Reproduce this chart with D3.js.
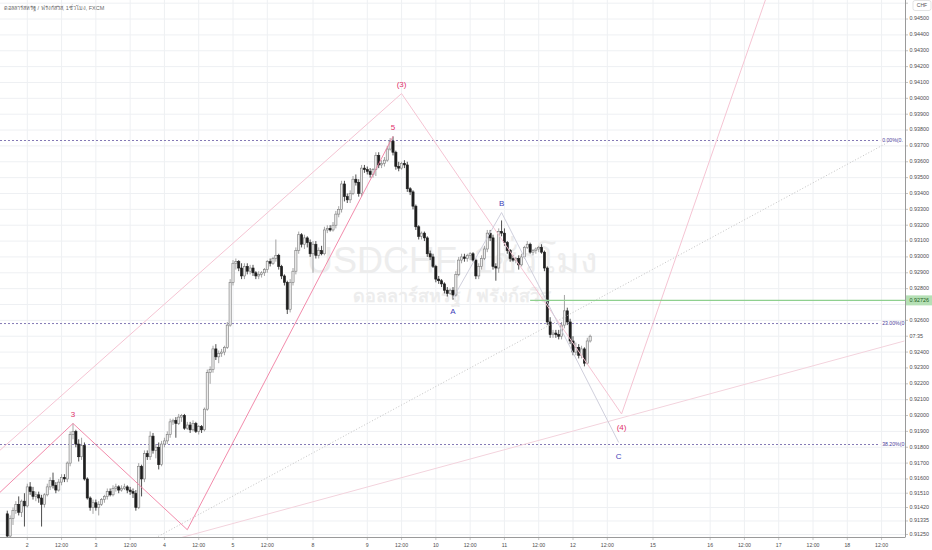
<!DOCTYPE html>
<html><head><meta charset="utf-8">
<script src="https://cdn.jsdelivr.net/npm/d3@7"></script>
<style>body{margin:0;background:#fff}svg{display:block}text{font-family:"Liberation Sans",Arial,"Noto Sans",sans-serif}</style>
</head><body><svg id="c" width="932" height="550"></svg>
<script>
// ---- data ----
const firstHour = -7; // hourly bars, hours counted from day "2" 00:00
const open = [.9138,.9124,.9135,.9140,.9144,.9139,.9146,.9143,.9155,.9152,
.9149,.9150,.9148,.9144,.9150,.9155,.9159,.9156,.9153,.9158,
.9161,.9160,.9170,.9188,.9190,.9182,.9174,.9181,.9160,.9148,
.9142,.9145,.9142,.9144,.9147,.9149,.9152,.9150,.9154,.9155,
.9153,.9154,.9155,.9153,.9152,.9151,.9142,.9168,.9160,.9176,
.9174,.9187,.9178,.9180,.9169,.9182,.9184,.9188,.9196,.9197,
.9195,.9199,.9200,.9192,.9194,.9191,.9195,.9190,.9193,.9191,
.9204,.9227,.9229,.9242,.9237,.9239,.9240,.9243,.9257,.9284,
.9296,.9297,.9293,.9288,.9294,.9291,.9293,.9290,.9288,.9289,
.9290,.9292,.9297,.9296,.9299,.9301,.9294,.9288,.9284,.9267,
.9284,.9291,.9304,.9314,.9308,.9312,.9309,.9302,.9308,.9301,
.9304,.9302,.9317,.9318,.9317,.9320,.9327,.9330,.9346,.9338,
.9336,.9340,.9349,.9347,.9340,.9356,.9355,.9354,.9352,.9355,
.9364,.9358,.9359,.9361,.9368,.9373,.9366,.9357,.9356,.9359,
.9358,.9343,.9341,.9332,.9319,.9313,.9315,.9312,.9302,.9300,
.9294,.9286,.9285,.9283,.9279,.9277,.9279,.9276,.9289,.9298,
.9300,.9299,.9301,.9302,.9298,.9288,.9294,.9299,.9305,.9315,
.9312,.9294,.9293,.9316,.9315,.9309,.9304,.9299,.9298,.9299,
.9295,.9300,.9306,.9308,.9303,.9304,.9305,.9306,.9303,.9293,
.9259,.9251,.9252,.9251,.9250,.9257,.9266,.9259,.9247,.9240,
.9243,.9238,.9242,.9233,.9247];
const high = [.9140,.9137,.9142,.9146,.9149,.9147,.9151,.9157,.9158,.9155,
.9152,.9152,.9150,.9151,.9157,.9161,.9164,.9158,.9160,.9163,
.9163,.9171,.9190,.9195,.9191,.9185,.9186,.9183,.9161,.9149,
.9147,.9147,.9146,.9148,.9150,.9154,.9154,.9156,.9157,.9156,
.9156,.9157,.9156,.9155,.9154,.9153,.9170,.9169,.9178,.9178,
.9190,.9189,.9182,.9183,.9184,.9186,.9190,.9198,.9198,.9199,
.9201,.9201,.9201,.9196,.9196,.9197,.9196,.9194,.9194,.9205,
.9229,.9231,.9244,.9245,.9241,.9242,.9244,.9259,.9286,.9298,
.9299,.9298,.9296,.9296,.9296,.9295,.9295,.9291,.9291,.9291,
.9293,.9298,.9299,.9300,.9311,.9302,.9295,.9289,.9285,.9286,
.9293,.9306,.9316,.9315,.9314,.9313,.9311,.9310,.9310,.9306,
.9307,.9319,.9320,.9320,.9322,.9329,.9332,.9348,.9348,.9340,
.9342,.9351,.9352,.9349,.9358,.9358,.9357,.9356,.9356,.9366,
.9366,.9361,.9363,.9370,.9375,.9376,.9367,.9360,.9360,.9361,
.9360,.9344,.9342,.9333,.9320,.9316,.9316,.9313,.9304,.9302,
.9295,.9288,.9286,.9284,.9281,.9280,.9281,.9291,.9300,.9302,
.9302,.9302,.9303,.9303,.9299,.9296,.9301,.9307,.9317,.9317,
.9314,.9296,.9318,.9323,.9318,.9310,.9305,.9301,.9300,.9301,
.9302,.9307,.9310,.9309,.9305,.9306,.9307,.9308,.9304,.9294,
.9262,.9254,.9254,.9254,.9259,.9276,.9268,.9261,.9250,.9246,
.9245,.9244,.9243,.9249,.9251];
const low = [.9122,.9123,.9131,.9138,.9137,.9136,.9130,.9142,.9150,.9147,
.9146,.9145,.9130,.9142,.9149,.9153,.9154,.9151,.9152,.9156,
.9158,.9158,.9168,.9185,.9180,.9171,.9172,.9159,.9147,.9140,
.9138,.9140,.9137,.9143,.9145,.9147,.9149,.9149,.9152,.9151,
.9152,.9153,.9151,.9150,.9148,.9140,.9141,.9149,.9158,.9172,
.9172,.9176,.9173,.9166,.9168,.9180,.9182,.9186,.9194,.9186,
.9194,.9196,.9191,.9191,.9189,.9190,.9189,.9188,.9189,.9190,
.9203,.9220,.9227,.9235,.9233,.9237,.9238,.9242,.9256,.9282,
.9292,.9291,.9286,.9286,.9289,.9289,.9288,.9286,.9286,.9287,
.9288,.9290,.9294,.9295,.9297,.9292,.9286,.9282,.9264,.9265,
.9282,.9289,.9302,.9306,.9305,.9306,.9300,.9290,.9299,.9299,
.9301,.9301,.9315,.9316,.9316,.9318,.9325,.9328,.9335,.9334,
.9334,.9339,.9345,.9338,.9338,.9353,.9352,.9350,.9350,.9351,
.9356,.9356,.9357,.9360,.9367,.9364,.9355,.9354,.9355,.9356,
.9341,.9339,.9330,.9317,.9311,.9311,.9310,.9300,.9298,.9293,
.9284,.9283,.9281,.9277,.9275,.9276,.9273,.9275,.9288,.9296,
.9297,.9297,.9298,.9297,.9286,.9286,.9292,.9298,.9303,.9310,
.9292,.9285,.9290,.9313,.9307,.9302,.9297,.9297,.9296,.9292,
.9294,.9299,.9305,.9302,.9301,.9302,.9303,.9302,.9291,.9257,
.9249,.9249,.9249,.9248,.9248,.9255,.9257,.9245,.9238,.9238,
.9236,.9236,.9231,.9232,.9246];
const close = [.9124,.9135,.9140,.9144,.9139,.9146,.9143,.9155,.9152,.9149,
.9150,.9148,.9144,.9150,.9155,.9159,.9156,.9153,.9158,.9161,
.9160,.9170,.9188,.9190,.9182,.9174,.9181,.9160,.9148,.9142,
.9145,.9142,.9144,.9147,.9149,.9152,.9150,.9154,.9155,.9153,
.9154,.9155,.9153,.9152,.9151,.9142,.9168,.9160,.9176,.9174,
.9187,.9178,.9180,.9169,.9182,.9184,.9188,.9196,.9197,.9195,
.9199,.9200,.9192,.9194,.9191,.9195,.9190,.9193,.9191,.9204,
.9227,.9229,.9242,.9237,.9239,.9240,.9243,.9257,.9284,.9296,
.9297,.9293,.9288,.9294,.9291,.9293,.9290,.9288,.9289,.9290,
.9292,.9297,.9296,.9299,.9301,.9294,.9288,.9284,.9267,.9284,
.9291,.9304,.9314,.9308,.9312,.9309,.9302,.9308,.9301,.9304,
.9302,.9317,.9318,.9317,.9320,.9327,.9330,.9346,.9338,.9336,
.9340,.9349,.9347,.9340,.9356,.9355,.9354,.9352,.9355,.9364,
.9358,.9359,.9361,.9368,.9373,.9366,.9357,.9356,.9359,.9358,
.9343,.9341,.9332,.9319,.9313,.9315,.9312,.9302,.9300,.9294,
.9286,.9285,.9283,.9279,.9277,.9279,.9276,.9289,.9298,.9300,
.9299,.9301,.9302,.9298,.9288,.9294,.9299,.9305,.9315,.9312,
.9294,.9293,.9316,.9315,.9309,.9304,.9299,.9298,.9299,.9295,
.9300,.9306,.9308,.9303,.9304,.9305,.9306,.9303,.9293,.9259,
.9251,.9252,.9251,.9250,.9257,.9266,.9259,.9247,.9240,.9243,
.9238,.9242,.9233,.9247,.9250];

const timeTickHours = [0,12,24,36,48,60,72,84,100,119,131,143,155,167,179,191,203,219,239,251,263,275,287,299];
const timeTickLabels = ["2","12:00","3","12:00","4","12:00","5","12:00","8","9","12:00","10","12:00","11","12:00","12","12:00","15","16","12:00","17","12:00","18","12:00"];
const priceTicks = [0.946,0.945,0.944,0.943,0.942,0.941,0.940,0.939,0.938,0.937,0.936,0.935,0.934,0.933,0.932,0.931,0.930,0.929,0.928,0.927,0.926,0.925,0.924,0.923,0.922,0.921,0.920,0.919,0.918,0.917,0.916,0.9151,0.9142,0.91335,0.9125];
const hiddenPriceLabels = [0.946,0.927,0.925]; // covered by the CHF box, alert label and countdown

const fibLevels = [0, 0.23, 0.382];
const fibHigh = 0.93734, fibLow = 0.88716, fibEndHour = 298.5;
const alertPrice = 0.92726, alertStartHour = 176;
const countdownText = "07:35";
const countdownPrice = 0.925;

const minorWave = [{h:-14,p:.9144},{h:16,p:.9195,t:"3"},{h:56,p:.9128},{h:128,p:.9376,t:"5"}];
const majorWave = [{h:-14,p:.9171},{h:131,p:.9403,t:"(3)"},{h:208,p:.9201,t:"(4)"},{h:262,p:.9481}];
const correction = [{h:149,p:.9274,t:"A"},{h:166,p:.9328,t:"B"},{h:207,p:.9183,t:"C"}];
const trendSolid = [{h:-9.5,p:.9092},{h:307,p:.9247}];
const trendDotted = [{h:25.5,p:.9104},{h:302,p:.9373}];

const titleText = "ดอลลาร์สหรัฐ / ฟรังก์สวิส, 1ชั่วโมง, FXCM";
const wmMain = "USDCHF, 1ชั่วโมง";
const wmSub = "ดอลลาร์สหรัฐ / ฟรังก์สวิส";

// ---- drawing ----
const plotR = 905, plotB = 537;
const svg = d3.select("#c");
const x = d3.scaleLinear().domain([-9.55, 307.2]).range([0, plotR]);
const y = d3.scaleLinear().domain([0.91234, 0.94620]).range([plotB, 0]);

svg.append("defs").append("clipPath").attr("id","clip").append("rect").attr("width",plotR).attr("height",plotB);
const g = svg.append("g").attr("clip-path","url(#clip)");

// grid
g.selectAll(".hg").data(priceTicks).join("line").attr("x1",0).attr("x2",plotR)
 .attr("y1",d=>y(d)).attr("y2",d=>y(d)).attr("stroke","#eef0f3").attr("stroke-width",1);
g.selectAll(".vg").data(timeTickHours).join("line").attr("y1",0).attr("y2",plotB)
 .attr("x1",d=>x(d)).attr("x2",d=>x(d)).attr("stroke","#eef0f3").attr("stroke-width",1);

// watermark
g.append("text").attr("x",plotR/2).attr("y",273).attr("text-anchor","middle").attr("font-size",36)
 .attr("fill","#ededed").text(wmMain);
g.append("text").attr("x",plotR/2).attr("y",302).attr("text-anchor","middle").attr("font-size",18)
 .attr("font-weight","bold").attr("fill","#ededed").text(wmSub);

// fib levels
const fibPrice = l => fibHigh - l*(fibHigh - fibLow);
g.selectAll(".fib").data(fibLevels).join("line").attr("x1",0).attr("x2",x(fibEndHour))
 .attr("y1",d=>y(fibPrice(d))).attr("y2",d=>y(fibPrice(d)))
 .attr("stroke","#8479b5").attr("stroke-width",1).attr("stroke-dasharray","2,2");
g.selectAll(".fibt").data(fibLevels).join("text").attr("x",x(fibEndHour)+2).attr("y",d=>y(fibPrice(d)))
 .attr("dominant-baseline","middle").attr("font-size",5.2).attr("fill","#4b3c9a")
 .each(function(d){
   // the label runs into the price scale; keep only the part that fits in the pane
   const full = (d*100).toFixed(2)+"%("+fibPrice(d).toFixed(5)+")";
   const room = plotR - (x(fibEndHour)+2) - 0.5;
   let s = full; this.textContent = s;
   while(s.length>1 && this.getComputedTextLength()>room){ s = s.slice(0,-1); this.textContent = s; }
 });

// candles
const bars = open.map((o,i)=>({h:firstHour+i,o,hi:high[i],lo:low[i],c:close[i]}));
const cg = g.append("g");
cg.selectAll(".wick").data(bars).join("line")
 .attr("x1",d=>x(d.h)).attr("x2",d=>x(d.h)).attr("y1",d=>y(d.hi)).attr("y2",d=>y(d.lo))
 .attr("stroke",d=>d.c>=d.o?"#8d8d8d":"#222").attr("stroke-width",0.8);
cg.selectAll(".body").data(bars).join("rect")
 .attr("x",d=>x(d.h)-1.1).attr("width",2.2)
 .attr("y",d=>y(Math.max(d.o,d.c))).attr("height",d=>Math.max(0.8,Math.abs(y(d.o)-y(d.c))))
 .attr("fill",d=>d.c>=d.o?"#ececec":"#1e1e1e").attr("stroke",d=>d.c>=d.o?"#7a7a7a":"#1e1e1e").attr("stroke-width",0.6);

// trend lines
const line = d3.line().x(d=>x(d.h)).y(d=>y(d.p));
g.append("path").attr("d",line(trendSolid)).attr("fill","none").attr("stroke","#f3d3dd").attr("stroke-width",1);
g.append("path").attr("d",line(trendDotted)).attr("fill","none").attr("stroke","#c4c4c4").attr("stroke-width",1).attr("stroke-dasharray","1,2");

// waves
g.append("path").attr("d",line(majorWave)).attr("fill","none").attr("stroke","#f5c4d3").attr("stroke-width",1);
g.append("path").attr("d",line(correction)).attr("fill","none").attr("stroke","#cfcfdc").attr("stroke-width",1);
g.append("path").attr("d",line(minorWave)).attr("fill","none").attr("stroke","#f07ea2").attr("stroke-width",0.9);

// alert line
g.append("line").attr("x1",x(alertStartHour)).attr("x2",plotR).attr("y1",y(alertPrice)).attr("y2",y(alertPrice))
 .attr("stroke","#8fd08f").attr("stroke-width",1.3);

// wave labels
function labels(arr,color){
  arr.forEach((d,i)=>{
    if(!d.t) return;
    const ref = arr[i-1]||arr[i+1];
    const isPeak = ref ? d.p > ref.p : true;
    g.append("text").attr("x",x(d.h)).attr("y",y(d.p)+(isPeak?-9:14)).attr("text-anchor","middle")
     .attr("dominant-baseline","middle").attr("font-size",8).attr("fill",color).text(d.t);
  });
}
labels(minorWave,"#e0306a");
labels(majorWave,"#e0306a");
labels(correction,"#4040b8");

// title
svg.append("text").attr("x",4).attr("y",10).attr("font-size",5.5).attr("fill","#6b6b6b").text(titleText);

// right axis
svg.append("line").attr("x1",plotR+0.5).attr("x2",plotR+0.5).attr("y1",0).attr("y2",plotB).attr("stroke","#9a9a9a");
svg.selectAll(".pt").data(priceTicks).join("line").attr("x1",plotR).attr("x2",plotR+3)
 .attr("y1",d=>y(d)).attr("y2",d=>y(d)).attr("stroke","#9a9a9a").attr("stroke-width",0.6);
svg.selectAll(".pl").data(priceTicks.filter(d=>!hiddenPriceLabels.includes(d))).join("text")
 .attr("x",plotR+4.5).attr("y",d=>y(d))
 .attr("dominant-baseline","middle").attr("font-size",5.4).attr("fill","#4d4d4d").text(d=>d.toFixed(5));

// alert price label
svg.append("rect").attr("x",plotR+1).attr("y",y(alertPrice)-5).attr("width",26).attr("height",10).attr("fill","#b5e0b5");
svg.append("text").attr("x",plotR+4.5).attr("y",y(alertPrice)).attr("dominant-baseline","middle")
 .attr("font-size",5.4).attr("fill","#1b5e20").text(alertPrice.toFixed(5));

// countdown label
svg.append("text").attr("x",plotR+4.5).attr("y",y(countdownPrice)).attr("dominant-baseline","middle")
 .attr("font-size",5.4).attr("fill","#4d4d4d").text(countdownText);

// currency box
svg.append("rect").attr("x",plotR+8).attr("y",0.5).attr("width",18).attr("height",10).attr("rx",2)
 .attr("fill","#fff").attr("stroke","#d0d0d0").attr("stroke-width",0.6);
svg.append("text").attr("x",plotR+17).attr("y",6).attr("text-anchor","middle").attr("dominant-baseline","middle")
 .attr("font-size",5).attr("fill","#555").text("CHF");

// bottom axis
svg.append("line").attr("x1",0).attr("x2",plotR+0.5).attr("y1",plotB+0.5).attr("y2",plotB+0.5).attr("stroke","#9a9a9a");
svg.selectAll(".tt").data(timeTickHours).join("line").attr("x1",d=>x(d)).attr("x2",d=>x(d))
 .attr("y1",plotB).attr("y2",plotB+3).attr("stroke","#9a9a9a").attr("stroke-width",0.6);
svg.selectAll(".tl").data(timeTickHours).join("text").attr("x",d=>x(d)).attr("y",546)
 .attr("text-anchor","middle").attr("dominant-baseline","middle").attr("font-size",5.2).attr("fill","#4d4d4d")
 .text((d,i)=>timeTickLabels[i]);
</script></body></html>
